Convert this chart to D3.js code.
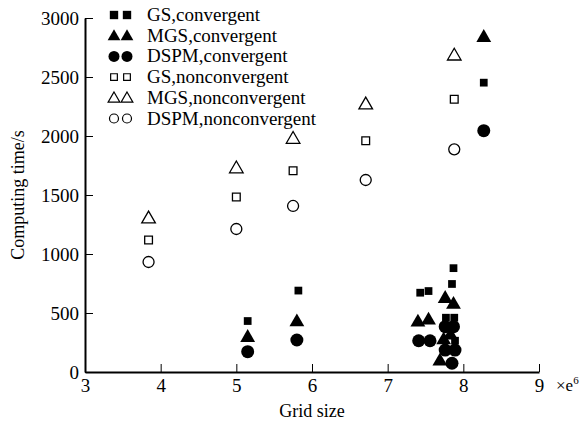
<!DOCTYPE html>
<html>
<head>
<meta charset="utf-8">
<script src="https://cdn.jsdelivr.net/npm/d3@7/dist/d3.min.js"></script>
<style>
  body { margin: 0; background: #fff; }
  text { font-family: "Liberation Serif", "DejaVu Serif", serif; fill: #000; }
</style>
</head>
<body>
<script>
// data: grid size (x 1e6) and computing time (s)
var gsConv = [[5.15,432],[5.82,690],[7.43,672],[7.54,686],[7.87,880],[7.85,746],[7.77,460],[7.88,460],[7.89,265],[8.27,2452]];
var mgsConv = [[5.15,300],[5.80,432],[7.40,430],[7.54,447],[7.76,630],[7.87,580],[7.74,280],[7.83,320],[7.69,100],[8.27,2842]];
var dspmConv = [[5.15,172],[5.80,271],[7.41,265],[7.56,265],[7.76,384],[7.87,384],[7.76,186],[7.89,186],[7.85,74],[8.27,2045]];
var gsNon = [[3.84,1119],[5.0,1483],[5.75,1706],[6.71,1960],[7.88,2311]];
var mgsNon = [[3.84,1305],[5.0,1730],[5.75,1980],[6.71,2271],[7.88,2686]];
var dspmNon = [[3.84,932],[5.0,1212],[5.75,1407],[6.71,1627],[7.88,1887]];

var xTicks = [3,4,5,6,7,8,9];
var yTicks = [0,500,1000,1500,2000,2500,3000];
var legendLabels = ['GS,convergent','MGS,convergent','DSPM,convergent','GS,nonconvergent','MGS,nonconvergent','DSPM,nonconvergent'];

var svg = d3.select('body').append('svg')
            .attr('width', 583)
            .attr('height', 424);

var x = d3.scaleLinear().domain([3,9]).range([85,539]);
var y = d3.scaleLinear().domain([0,3000]).range([372,18]);

// axes, ticks pointing inward
var xAxis = svg.append('g').attr('transform','translate(0,372)')
  .call(d3.axisBottom(x).tickValues(xTicks).tickFormat(d3.format('d'))
        .tickSizeInner(-8).tickSizeOuter(0).tickPadding(3));
var yAxis = svg.append('g').attr('transform','translate(85,0)')
  .call(d3.axisLeft(y).tickValues(yTicks).tickFormat(d3.format('d'))
        .tickSizeInner(-8).tickSizeOuter(0).tickPadding(6));

[xAxis, yAxis].forEach(function(a){
  a.attr('font-family','Liberation Serif').attr('font-size', 19);
  a.select('.domain').attr('stroke','#000').attr('stroke-width',2);
  a.selectAll('.tick line').attr('stroke','#000').attr('stroke-width',1);
  a.selectAll('.tick text').style('font-family','Liberation Serif');
});
xAxis.selectAll('.tick text').attr('dy','0.9em');
yAxis.selectAll('.tick text').attr('dy','0.35em');

svg.append('text').attr('x', 312).attr('y', 417).attr('text-anchor','middle')
   .style('font-size','18px').text('Grid size');
svg.append('text').attr('transform','translate(24,195) rotate(-90)').attr('text-anchor','middle')
   .style('font-size','18px').text('Computing time/s');
var mult = svg.append('text').attr('x', 556).attr('y', 391).style('font-size','17px');
mult.append('tspan').text('\u00d7e');
mult.append('tspan').attr('dy',-7).style('font-size','11px').text('6');

// markers
var sq = d3.symbol().type(d3.symbolSquare);
var tri = d3.symbol().type(d3.symbolTriangle);

function drawSquares(data, size, filled){
  svg.append('g').selectAll('path').data(data).enter().append('path')
     .attr('transform', function(d){ return 'translate('+x(d[0])+','+y(d[1])+')'; })
     .attr('d', sq.size(size)())
     .attr('fill', filled ? '#000' : '#fff')
     .attr('stroke','#000').attr('stroke-width', filled ? 0 : 1.3);
}
function drawTriangles(data, size, filled){
  svg.append('g').selectAll('path').data(data).enter().append('path')
     .attr('transform', function(d){ return 'translate('+x(d[0])+','+(y(d[1])+1)+')'; })
     .attr('d', tri.size(size)())
     .attr('fill', filled ? '#000' : '#fff')
     .attr('stroke','#000').attr('stroke-width', filled ? 0 : 1.3);
}
function drawCircles(data, r, filled){
  svg.append('g').selectAll('circle').data(data).enter().append('circle')
     .attr('cx', function(d){ return x(d[0]); })
     .attr('cy', function(d){ return y(d[1]); })
     .attr('r', r)
     .attr('fill', filled ? '#000' : '#fff')
     .attr('stroke','#000').attr('stroke-width', filled ? 0 : 1.3);
}

drawSquares(gsNon, 60, false);
drawTriangles(mgsNon, 80, false);
drawCircles(dspmNon, 5.5, false);
drawCircles(dspmConv, 6.5, true);
drawTriangles(mgsConv, 95, true);
drawSquares(gsConv, 60, true);

// legend
var legendRows = [
  {kind:'sq', filled:true}, {kind:'tri', filled:true}, {kind:'circ', filled:true},
  {kind:'sq', filled:false}, {kind:'tri', filled:false}, {kind:'circ', filled:false}
];
var lg = svg.append('g');
legendRows.forEach(function(r, i){
  var cy = 15 + i*20.7;
  [114, 127].forEach(function(cx){
    if(r.kind === 'sq'){
      lg.append('path').attr('transform','translate('+cx+','+cy+')')
        .attr('d', sq.size(r.filled ? 70 : 45)())
        .attr('fill', r.filled ? '#000' : '#fff').attr('stroke','#000').attr('stroke-width', r.filled ? 0 : 1.2);
    } else if(r.kind === 'tri'){
      lg.append('path').attr('transform','translate('+cx+','+(cy+1)+')')
        .attr('d', tri.size(r.filled ? 70 : 60)())
        .attr('fill', r.filled ? '#000' : '#fff').attr('stroke','#000').attr('stroke-width', r.filled ? 0 : 1.2);
    } else {
      lg.append('circle').attr('cx', cx).attr('cy', cy).attr('r', r.filled ? 5.5 : 4.5)
        .attr('fill', r.filled ? '#000' : '#fff').attr('stroke','#000').attr('stroke-width', r.filled ? 0 : 1.2);
    }
  });
  lg.append('text').attr('x', 147).attr('y', cy + 6).style('font-size','19px').text(legendLabels[i]);
});
</script>
</body>
</html>
